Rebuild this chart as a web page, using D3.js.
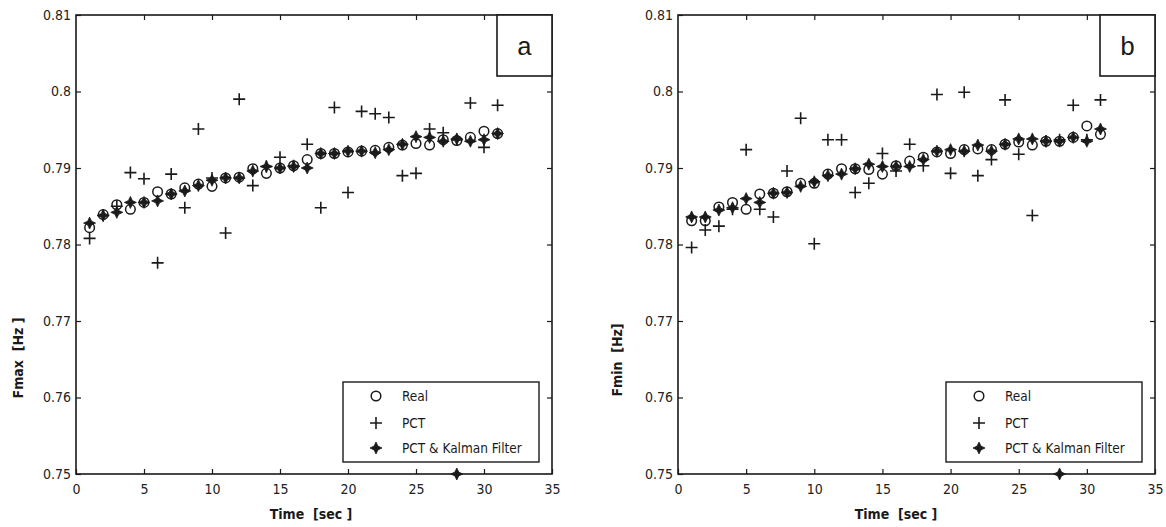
<!DOCTYPE html>
<html><head><meta charset="utf-8">
<script src="https://cdn.jsdelivr.net/npm/d3@7"></script>
<style>
body{margin:0;background:#fff;}
svg{display:block;}
.tick text{font-family:"Liberation Sans Narrow","DejaVu Sans Condensed",Arial,sans-serif;font-size:14px;fill:#222;}
</style></head>
<body><svg id="c" width="1166" height="527"></svg>
<script>
const time = d3.range(1, 32);
const xTicks = [0,5,10,15,20,25,30,35];
const yTicks = [0.75,0.76,0.77,0.78,0.79,0.80,0.81];
const yTickLabels = ["0.75","0.76","0.77","0.78","0.79","0.8","0.81"];
const legendLabels = ["Real","PCT","PCT & Kalman Filter"];

// Panel a : Fmax
const realA = [0.7822,0.7839,0.7852,0.7846,0.7855,0.7869,0.7866,0.7874,0.7879,0.7876,0.7887,0.7888,0.7899,0.7893,0.7900,0.7903,0.7911,0.7919,0.7919,0.7921,0.7922,0.7923,0.7927,0.7930,0.7932,0.7930,0.7937,0.7936,0.7940,0.7948,0.7945];
const pctA = [0.7808,0.7838,0.7850,0.7894,0.7886,0.7776,0.7892,0.7848,0.7951,0.7887,0.7815,0.7990,0.7877,0.7902,0.7914,0.7903,0.7931,0.7848,0.7979,0.7868,0.7974,0.7971,0.7966,0.7890,0.7893,0.7951,0.7946,0.7937,0.7985,0.7927,0.7982];
const kalA = [0.7828,0.7838,0.7842,0.7855,0.7855,0.7857,0.7866,0.7870,0.7877,0.7884,0.7887,0.7887,0.7896,0.7902,0.7900,0.7902,0.7900,0.7919,0.7919,0.7922,0.7922,0.7920,0.7924,0.7931,0.7941,0.7940,0.7935,0.7938,0.7935,0.7937,0.7945];
const strayKalA = [[28, 0.75]];

// Panel b : Fmin
const realB = [0.7831,0.7831,0.7849,0.7855,0.7846,0.7866,0.7867,0.7869,0.7880,0.7880,0.7892,0.7899,0.7899,0.7898,0.7892,0.7903,0.7909,0.7914,0.7921,0.7919,0.7924,0.7925,0.7924,0.7931,0.7934,0.7930,0.7935,0.7935,0.7940,0.7955,0.7944];
const pctB = [0.7796,0.7819,0.7824,0.7846,0.7924,0.7846,0.7836,0.7896,0.7965,0.7801,0.7937,0.7937,0.7868,0.7880,0.7919,0.7896,0.7931,0.7903,0.7996,0.7893,0.7999,0.7890,0.7911,0.7989,0.7918,0.7838,0.7935,0.7937,0.7982,0.7937,0.7989];
const kalB = [0.7836,0.7836,0.7845,0.7848,0.7860,0.7855,0.7867,0.7868,0.7876,0.7882,0.7890,0.7892,0.7899,0.7905,0.7902,0.7902,0.7902,0.7911,0.7922,0.7924,0.7922,0.7930,0.7922,0.7931,0.7938,0.7938,0.7935,0.7935,0.7940,0.7935,0.7951];
const strayKalB = [[28, 0.75]];

const panels = [
  {letter:"a", ylab:"Fmax\u00a0\u00a0[Hz\u00a0]", real:realA, pct:pctA, kal:kalA, stray:strayKalA,
   x0:76, x1:552, ylabX:18, ylabY:358, xlabX:311},
  {letter:"b", ylab:"Fmin\u00a0\u00a0[Hz]", real:realB, pct:pctB, kal:kalB, stray:strayKalB,
   x0:678, x1:1155, ylabX:617, ylabY:360, xlabX:896}
];
const yTop = 15, yBot = 474;
const ink = "#1a1a1a";
const svg = d3.select("#c");

function starPath(r){
  const s = r*0.32;
  return `M0,${-r}L${s},${-s}L${r},0L${s},${s}L0,${r}L${-s},${s}L${-r},0L${-s},${-s}Z`;
}
function drawReal(g, x, y){ g.append("circle").attr("cx",x).attr("cy",y).attr("r",4.8).attr("fill","none").attr("stroke",ink).attr("stroke-width",1.5); }
function drawPct(g, x, y){ g.append("path").attr("d",`M${x-6},${y}H${x+6}M${x},${y-6}V${y+6}`).attr("stroke",ink).attr("stroke-width",1.6).attr("fill","none"); }
function drawKal(g, x, y){ g.append("path").attr("transform",`translate(${x},${y})`).attr("d",starPath(6)).attr("fill",ink).attr("stroke",ink).attr("stroke-width",0.8); }

panels.forEach(p => {
  const x = d3.scaleLinear().domain([0,35]).range([p.x0,p.x1]);
  const y = d3.scaleLinear().domain([0.75,0.81]).range([yBot,yTop]);
  const g = svg.append("g");

  g.append("rect").attr("x",p.x0).attr("y",yTop).attr("width",p.x1-p.x0).attr("height",yBot-yTop)
    .attr("fill","none").attr("stroke",ink).attr("stroke-width",1.6);

  const ax = g.append("g").attr("transform",`translate(0,${yBot})`)
    .call(d3.axisBottom(x).tickValues(xTicks).tickSize(-5).tickPadding(10).tickFormat(d3.format("d")));
  g.append("g").attr("transform",`translate(${p.x0},0)`)
    .call(d3.axisLeft(y).tickValues(yTicks).tickSize(-5).tickPadding(5).tickFormat((d,i)=>yTickLabels[i]));
  g.append("g").attr("transform",`translate(0,${yTop})`)
    .call(d3.axisTop(x).tickValues(xTicks.slice(1,-1)).tickSize(-5).tickFormat(""));
  g.append("g").attr("transform",`translate(${p.x1},0)`)
    .call(d3.axisRight(y).tickValues(yTicks.slice(1,-1)).tickSize(-5).tickFormat(""));
  g.selectAll(".domain").remove();
  g.selectAll(".tick line").attr("stroke",ink).attr("stroke-width",1.2);
  ax.selectAll(".tick text").attr("dy","0.71em");

  const dg = g.append("g");
  time.forEach((t,i) => drawPct(dg, x(t), y(p.pct[i])));
  time.forEach((t,i) => drawKal(dg, x(t), y(p.kal[i])));
  time.forEach((t,i) => drawReal(dg, x(t), y(p.real[i])));
  p.stray.forEach(d => drawKal(dg, x(d[0]), y(d[1])));

  g.append("rect").attr("x",p.x1-55).attr("y",yTop).attr("width",55).attr("height",61)
    .attr("fill","#fff").attr("stroke",ink).attr("stroke-width",1.6);
  g.append("text").attr("x",p.x1-27.5).attr("y",yTop+40).attr("text-anchor","middle")
    .attr("font-family","'Liberation Mono','DejaVu Sans Mono',monospace").attr("font-size",26).attr("fill",ink).text(p.letter);

  const lx = p.x1 - 209, ly = 382;
  g.append("rect").attr("x",lx).attr("y",ly).attr("width",196).attr("height",80)
    .attr("fill","#fff").attr("stroke",ink).attr("stroke-width",1.4);
  const rows = [396, 423, 448];
  const drawers = [drawReal, drawPct, drawKal];
  legendLabels.forEach((lab,i) => {
    drawers[i](g, lx+33, rows[i]);
    g.append("text").attr("x",lx+59).attr("y",rows[i]).attr("dy","0.35em")
      .attr("font-family","'Liberation Sans Narrow','DejaVu Sans Condensed',Arial,sans-serif")
      .attr("font-size",13.5).attr("fill",ink).text(lab);
  });

  g.append("text").attr("x",p.xlabX).attr("y",514).attr("dy","0.35em").attr("text-anchor","middle")
    .attr("font-family","'DejaVu Sans Condensed','Liberation Sans Narrow',Arial,sans-serif")
    .attr("font-weight","bold").attr("font-size",14).attr("fill",ink).text("Time\u00a0\u00a0[sec\u00a0]");
  g.append("text").attr("transform",`translate(${p.ylabX},${p.ylabY}) rotate(-90)`).attr("dy","0.35em")
    .attr("text-anchor","middle")
    .attr("font-family","'DejaVu Sans Condensed','Liberation Sans Narrow',Arial,sans-serif")
    .attr("font-weight","bold").attr("font-size",14).attr("fill",ink).text(p.ylab);
});
</script></body></html>
